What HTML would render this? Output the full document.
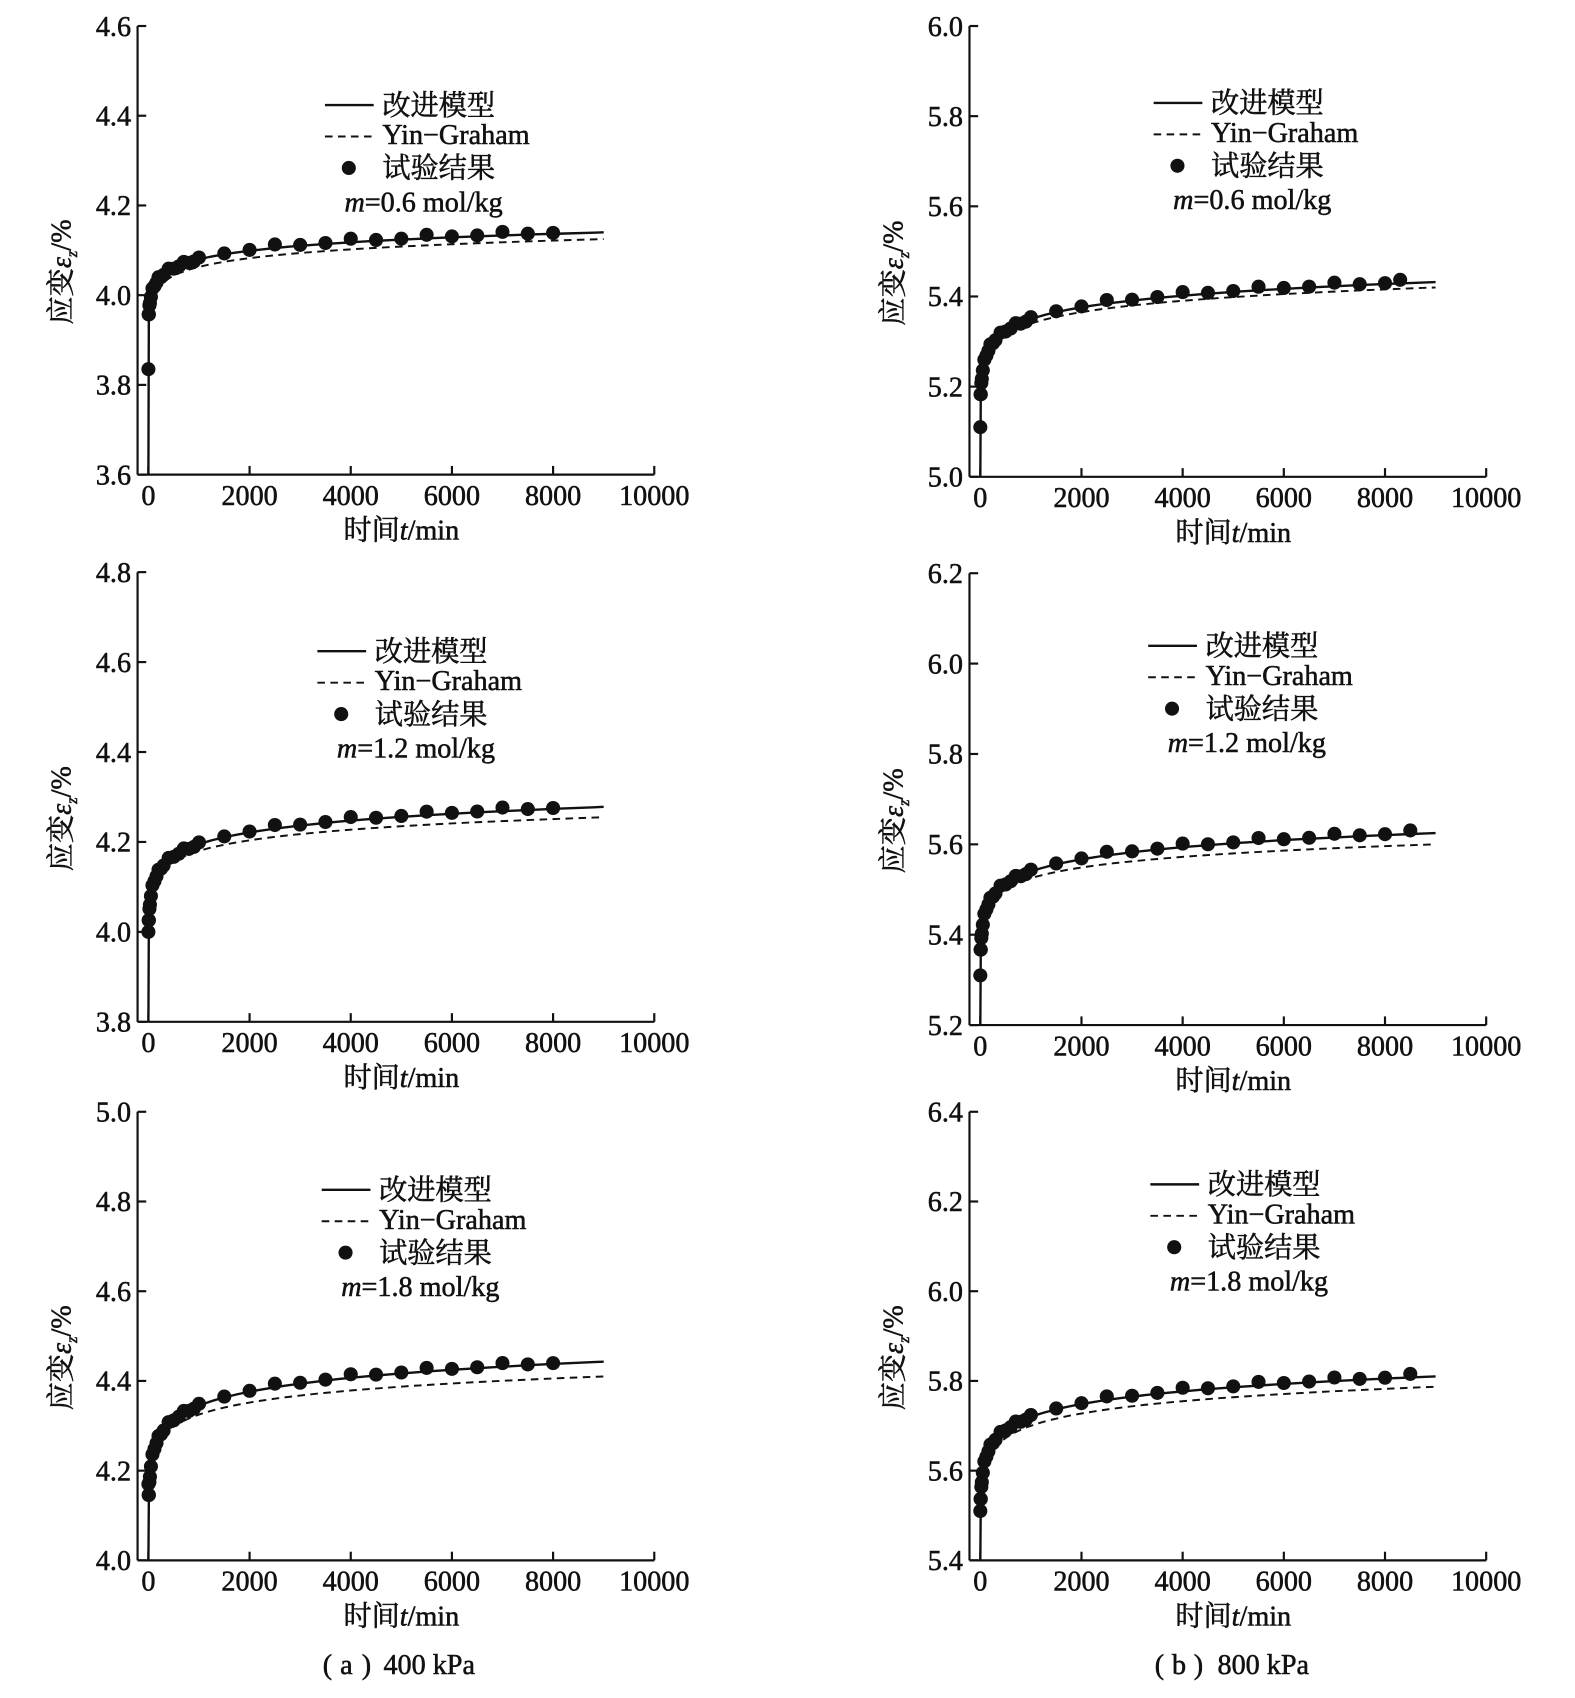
<!DOCTYPE html>
<html><head><meta charset="utf-8">
<style>
html,body{margin:0;padding:0;background:#fff;}
svg{display:block;}
text{font-family:"Liberation Serif","Noto Serif CJK SC",serif;fill:#111;stroke:#111;stroke-width:0.5;}
.tk{font-size:26px;}
.lg{font-size:26px;}
.cj{font-size:26px;}
</style></head>
<body>
<svg id="s" width="1575" height="1698" viewBox="0 0 1454 1567" preserveAspectRatio="none" xmlns="http://www.w3.org/2000/svg">
<g id="g"></g>
<text class="cj" x="298" y="1545">(</text><text class="cj" x="314" y="1545">a</text><text class="cj" x="334" y="1545">)</text><text class="lg" x="354" y="1545">400 kPa</text>
<text class="cj" x="1066" y="1545">(</text><text class="cj" x="1082" y="1545">b</text><text class="cj" x="1102" y="1545">)</text><text class="lg" x="1124" y="1545">800 kPa</text>
</svg>
<script>
var NS="http://www.w3.org/2000/svg",G=document.getElementById("g");
function el(t,a,txt){var e=document.createElementNS(NS,t);for(var k in a)e.setAttribute(k,a[k]);if(txt!==undefined)e.textContent=txt;G.appendChild(e);return e;}
var P=[
{ax:127,x0:137,x1:604,yt:24,yb:438,ymin:3.6,ymax:4.6,m:[4.08,4.14],d:[4.063,4.125],f:3.835,tl:8000,lx:300,ly:97,mm:"0.6"},
{ax:127,x0:137,x1:604,yt:528,yb:943,ymin:3.8,ymax:4.8,m:[4.195,4.278],d:[4.18,4.255],f:4.0,tl:8000,lx:293,ly:601,mm:"1.2"},
{ax:127,x0:137,x1:604,yt:1026,yb:1440,ymin:4.0,ymax:5.0,m:[4.345,4.443],d:[4.325,4.41],f:4.17,tl:8000,lx:297,ly:1098,mm:"1.8"},
{ax:895,x0:905,x1:1372,yt:24,yb:440,ymin:5.0,ymax:6.0,m:[5.35,5.432],d:[5.34,5.42],f:5.11,tl:8300,lx:1065,ly:95,mm:"0.6"},
{ax:895,x0:905,x1:1372,yt:529,yb:946,ymin:5.2,ymax:6.2,m:[5.54,5.625],d:[5.525,5.6],f:5.31,tl:8500,lx:1060,ly:596,mm:"1.2"},
{ax:895,x0:905,x1:1372,yt:1026,yb:1440,ymin:5.4,ymax:6.4,m:[5.72,5.81],d:[5.70,5.787],f:5.51,tl:8500,lx:1062,ly:1093,mm:"1.8"}];
P.forEach(function(p){
 var X=function(t){return p.x0+(p.x1-p.x0)*t/10000;};
 var Y=function(v){return p.yb-(p.yb-p.yt)*(v-p.ymin)/(p.ymax-p.ymin);};
 el("line",{x1:p.ax,y1:p.yt,x2:p.ax,y2:p.yb,stroke:"#111","stroke-width":2});
 el("line",{x1:p.ax,y1:p.yb,x2:p.x1,y2:p.yb,stroke:"#111","stroke-width":2});
 for(var i=0;i<=5;i++){var v=p.ymin+i*0.2,y=Y(v);
  el("line",{x1:p.ax,y1:y,x2:p.ax+8,y2:y,stroke:"#111","stroke-width":2});
  el("text",{x:p.ax-6,y:y+9,"text-anchor":"end","class":"tk"},v.toFixed(1));}
 for(var i=0;i<=5;i++){var t=i*2000,x=X(t);
  el("line",{x1:x,y1:p.yb,x2:x,y2:p.yb-8,stroke:"#111","stroke-width":2});
  el("text",{x:x,y:p.yb+28,"text-anchor":"middle","class":"tk"},String(t));}
 var cx=(p.ax+p.x1)/2+5;
 var tt=el("text",{x:cx,y:p.yb+60,"text-anchor":"middle","class":"cj"});
 tt.innerHTML='时间<tspan font-style="italic">t</tspan>/min';
 var yc=(p.yt+p.yb)/2+20,xl=p.ax-62;
 var yl=el("text",{x:0,y:0,transform:"translate("+xl+","+yc+") rotate(-90)","text-anchor":"middle","class":"cj"});
 yl.innerHTML='应变<tspan font-style="italic">ε</tspan><tspan font-style="italic" font-size="15" dy="6">z</tspan><tspan dy="-6">/%</tspan>';
 function curve(a,dash){var k=(a[1]-a[0])/Math.log(9),pts=[];
  var f=function(t){return a[0]+k*Math.log(t/1000);};
  if(!dash)pts.push([X(0),p.yb]);
  for(var t=8;t<=9000;t*=1.08)pts.push([X(t),Y(f(t))]);
  pts.push([X(9000),Y(f(9000))]);
  var d="M"+pts.map(function(q){return q[0].toFixed(1)+","+q[1].toFixed(1);}).join(" L");
  el("path",{d:d,fill:"none",stroke:"#111","stroke-width":dash?1.8:2.2,"stroke-dasharray":dash?"7,5":"none"});
  return f;}
 var fm=curve(p.m,false);curve(p.d,true);
 var ts=[0,5,10,20,30,50,80,120,160,200,250,300,400,500,600,700,800,900,1000];
 for(var t=1500;t<=p.tl-1;t+=500)ts.push(t);ts.push(p.tl);
 ts.forEach(function(t,i){var v=(t==0)?p.f:fm(Math.max(t,12))+(i%3==0?0.004:-0.002)+(t>1000?0.004:0);
  el("circle",{cx:X(t),cy:Y(v),r:6.5,fill:"#111"});});
 el("line",{x1:p.lx,y1:p.ly,x2:p.lx+45,y2:p.ly,stroke:"#111","stroke-width":2.2});
 el("text",{x:p.lx+53,y:p.ly+9,"class":"cj"},"改进模型");
 el("line",{x1:p.lx,y1:p.ly+29,x2:p.lx+45,y2:p.ly+29,stroke:"#111","stroke-width":1.8,"stroke-dasharray":"7,5"});
 el("text",{x:p.lx+53,y:p.ly+36,"class":"lg"},"Yin−Graham");
 el("circle",{cx:p.lx+22,cy:p.ly+58,r:6.5,fill:"#111"});
 el("text",{x:p.lx+53,y:p.ly+67,"class":"cj"},"试验结果");
 var mt=el("text",{x:p.lx+18,y:p.ly+98,"class":"lg"});
 mt.innerHTML='<tspan font-style="italic">m</tspan>='+p.mm+' mol/kg';
});
</script>
</body></html>
